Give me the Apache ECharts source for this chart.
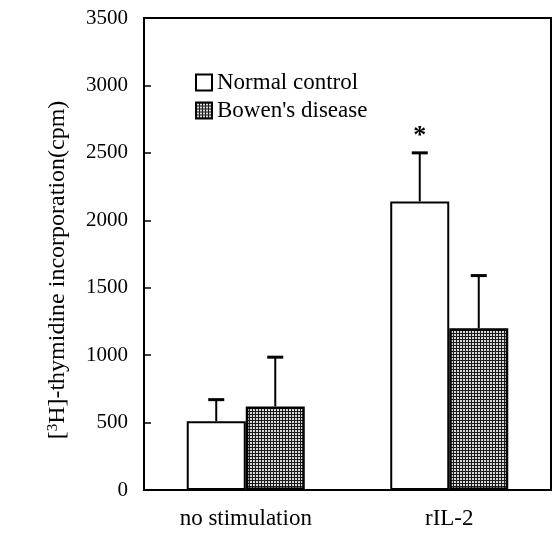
<!DOCTYPE html>
<html>
<head>
<meta charset="utf-8">
<script src="https://cdn.jsdelivr.net/npm/echarts@6/dist/echarts.min.js"></script>
<style>
    html, body { margin: 0; padding: 0; background: #fff; }
    #chart { width: 553px; height: 537px; }
</style>
</head>
<body>
<div id="chart"></div>
<script>
    var categories = ['no stimulation', 'rIL-2'];
    var normalMean = [510, 2140];
    var normalErr = [160, 360];
    var bowenMean = [620, 1200];
    var bowenErr = [365, 390];
    var normalSig = ['', '*'];
    var yTicks = [0, 500, 1000, 1500, 2000, 2500, 3000, 3500];

    // grid hatch for Bowen's disease
    var tile = document.createElement('canvas');
    tile.width = 3;
    tile.height = 3;
    var ctx = tile.getContext('2d');
    ctx.fillStyle = '#1a1a1a';
    ctx.fillRect(0, 0, 3, 3);
    ctx.fillStyle = '#d8d8d8';
    ctx.fillRect(1, 1, 2, 2);
    var hatch = { image: tile, repeat: 'repeat' };

    var BAR_W = 0.29;

    function errorSeries(name, mean, err, sig, side) {
        return {
            name: name + ' err',
            type: 'custom',
            z: 1,
            silent: true,
            data: mean.map(function (m, i) { return [i, m, err[i], sig[i]]; }),
            renderItem: function (params, api) {
                var band = api.size([1, 0])[0];
                var w = band * BAR_W;
                var top = api.coord([api.value(0), api.value(1)]);
                var hi = api.coord([api.value(0), api.value(1) + api.value(2)]);
                var x = top[0] + side * w / 2;
                var kids = [
                    { type: 'line', shape: { x1: x, y1: top[1], x2: x, y2: hi[1] }, style: { stroke: '#000', lineWidth: 2 } },
                    { type: 'line', shape: { x1: x - 8, y1: hi[1], x2: x + 8, y2: hi[1] }, style: { stroke: '#000', lineWidth: 3 } }
                ];
                var s = sig[params.dataIndex];
                if (s) {
                    kids.push({
                        type: 'text',
                        style: {
                            text: s, x: x, y: hi[1] - 4,
                            fill: '#000', font: 'bold 26px "Liberation Serif"',
                            align: 'center', verticalAlign: 'bottom'
                        }
                    });
                }
                return { type: 'group', children: kids };
            }
        };
    }

    var chart = echarts.init(document.getElementById('chart'));
    chart.setOption({
        animation: false,
        textStyle: { fontFamily: 'Liberation Serif', color: '#000' },
        grid: {
            left: 144, right: 2, top: 18, bottom: 47,
            show: true, borderColor: '#000', borderWidth: 2
        },
        legend: {
            left: 190, top: 66,
            orient: 'vertical',
            icon: 'rect',
            itemWidth: 16, itemHeight: 16, itemGap: 5,
            textStyle: { fontSize: 23, fontFamily: 'Liberation Serif', color: '#000' },
            data: ['Normal control', "Bowen's disease"]
        },
        xAxis: {
            type: 'category',
            data: categories,
            axisLine: { lineStyle: { color: '#000', width: 2 } },
            axisTick: { inside: true, length: 6, lineStyle: { color: '#000', width: 1.5 } },
            axisLabel: { fontSize: 23, color: '#000', margin: 17 }
        },
        yAxis: {
            type: 'value',
            min: 0, max: 3500, interval: 500,
            name: '[{sup|3}H]-thymidine incorporation(cpm)',
            nameLocation: 'middle',
            nameGap: 74,
            nameTextStyle: {
                fontSize: 24, color: '#000', fontFamily: 'Liberation Serif',
                padding: [0, 32, 0, 0],
                rich: {
                    sup: { fontSize: 15, verticalAlign: 'top', lineHeight: 22, fontFamily: 'Liberation Serif', color: '#000' }
                }
            },
            splitLine: { show: false },
            axisLine: { show: true, lineStyle: { color: '#000', width: 2 } },
            axisTick: { show: true, inside: true, length: 7, lineStyle: { color: '#000', width: 1.5 } },
            axisLabel: {
                fontSize: 21, color: '#000', margin: 16,
                formatter: function (v) { return yTicks.indexOf(v) >= 0 ? String(v) : ''; }
            }
        },
        series: [
            {
                name: 'Normal control',
                type: 'bar',
                barWidth: (BAR_W * 100) + '%',
                barGap: '0%',
                data: normalMean,
                itemStyle: { color: '#fff', borderColor: '#000', borderWidth: 2 }
            },
            {
                name: "Bowen's disease",
                type: 'bar',
                barWidth: (BAR_W * 100) + '%',
                barGap: '0%',
                data: bowenMean,
                itemStyle: { color: hatch, borderColor: '#000', borderWidth: 2.5 }
            },
            errorSeries('Normal control', normalMean, normalErr, normalSig, -1),
            errorSeries("Bowen's disease", bowenMean, bowenErr, ['', ''], 1)
        ]
    });
</script>
</body>
</html>
